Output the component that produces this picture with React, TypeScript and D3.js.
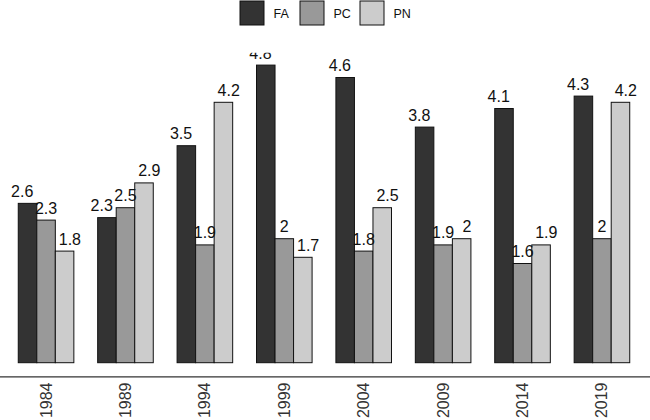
import React from "react";
import * as d3 from "d3";

const years = ["1984", "1989", "1994", "1999", "2004", "2009", "2014", "2019"];
const seriesNames = ["FA", "PC", "PN"];
const faValues = [2.57, 2.34, 3.5, 4.8, 4.6, 3.8, 4.1, 4.3];
const pcValues = [2.3, 2.5, 1.9, 2, 1.8, 1.9, 1.6, 2];
const pnValues = [1.8, 2.9, 4.2, 1.7, 2.5, 2, 1.9, 4.2];
const fills = ["#333333", "#999999", "#cccccc"];

const width = 650;
const height = 420;
const font = "'Liberation Sans', Arial, Helvetica, sans-serif";

const fmt = (v: number) => String(Math.round(v * 10) / 10);

const App: React.FC = () => {
  const values = [faValues, pcValues, pnValues];

  // 연도 그룹
  const x = d3.scaleBand<string>().domain(years).range([0, 648]).paddingInner(0.3).paddingOuter(0.23);
  const inner = d3.scaleBand<string>().domain(seriesNames).range([0, x.bandwidth()]);
  // 라벨은 바보다 넓게 dodge
  const labelStep = (x.step() * 0.9) / seriesNames.length;

  const y = d3.scaleLinear().domain([0, 5]).range([362.7, 52.7]);

  // 범례 위치
  const legendTextW = seriesNames.map(s => s.length * 8.5);
  const itemW = legendTextW.map(w => 24 + 10 + w + 9);
  const legendTotal = d3.sum(itemW) - 9;
  const legendX0 = width / 2 - legendTotal / 2;
  const legendXs = itemW.map((_, i) => legendX0 + d3.sum(itemW.slice(0, i)));

  return (
    <svg
      width={width}
      height={height}
      style={{ position: "absolute", left: 0, top: 0, background: "#fff", fontFamily: font }}
    >
      <defs>
        <clipPath id="panel">
          <rect x={0} y={52.7} width={width} height={340} />
        </clipPath>
      </defs>

      {/* 범례 */}
      {seriesNames.map((s, i) => (
        <g key={s} transform={`translate(${legendXs[i]},0)`}>
          <rect x={0.5} y={1} width={24} height={24} fill={fills[i]} stroke="#111" strokeWidth={1} />
          <text x={34} y={18} fontSize={12.5} fill="#111">
            {s}
          </text>
        </g>
      ))}

      {/* 막대와 값 라벨 */}
      <g clipPath="url(#panel)">
        {years.map((yr, gi) => (
          <g key={yr} transform={`translate(${x(yr)},0)`}>
            {seriesNames.map((s, si) => {
              const v = values[si][gi];
              const bx = inner(s) as number;
              return (
                <rect
                  key={s}
                  x={bx}
                  y={y(v)}
                  width={inner.bandwidth()}
                  height={y(0) - y(v)}
                  fill={fills[si]}
                  stroke="#111"
                  strokeWidth={1}
                />
              );
            })}
            {seriesNames.map((s, si) => {
              const v = values[si][gi];
              const cx = x.bandwidth() / 2 + (si - 1) * labelStep;
              return (
                <text key={s} x={cx} y={y(v) - 6.5} textAnchor="middle" fontSize={16} fill="#111">
                  {fmt(v)}
                </text>
              );
            })}
          </g>
        ))}
      </g>

      {/* x축 */}
      <line x1={0} x2={width} y1={376.8} y2={376.8} stroke="#333" strokeWidth={1.2} />
      {years.map(yr => {
        const cx = (x(yr) as number) + x.bandwidth() / 2;
        return (
          <text
            key={yr}
            transform={`translate(${cx},382.5) rotate(-90)`}
            textAnchor="end"
            dominantBaseline="central"
            fontSize={16}
            fill="#333"
          >
            {yr}
          </text>
        );
      })}
    </svg>
  );
};

export default App;
